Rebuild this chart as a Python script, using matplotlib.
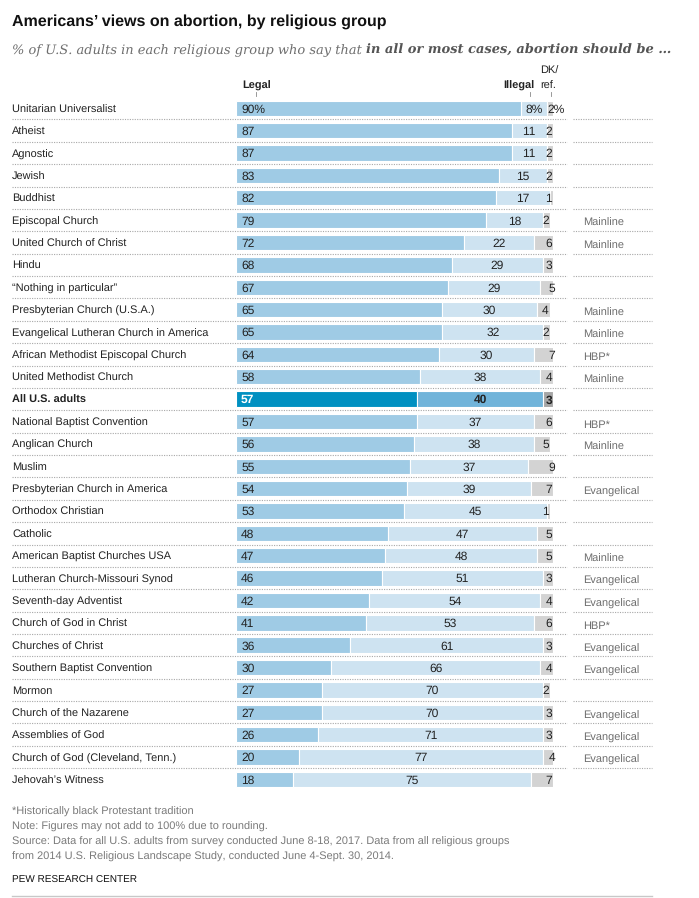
import matplotlib
matplotlib.use("Agg")
import matplotlib.pyplot as plt
import matplotlib.transforms as mtransforms
from matplotlib.lines import Line2D

plt.rcParams["text.hinting"] = "no_hinting"
plt.rcParams["text.hinting_factor"] = 1

# ── Data ──────────────────────────────────────────────────────────────────────
groups = [
    "Unitarian Universalist", "Atheist", "Agnostic", "Jewish", "Buddhist",
    "Episcopal Church", "United Church of Christ", "Hindu", "\u201cNothing in particular\u201d",
    "Presbyterian Church (U.S.A.)", "Evangelical Lutheran Church in America",
    "African Methodist Episcopal Church", "United Methodist Church", "All U.S. adults",
    "National Baptist Convention", "Anglican Church", "Muslim",
    "Presbyterian Church in America", "Orthodox Christian", "Catholic",
    "American Baptist Churches USA", "Lutheran Church-Missouri Synod",
    "Seventh-day Adventist", "Church of God in Christ", "Churches of Christ",
    "Southern Baptist Convention", "Mormon", "Church of the Nazarene",
    "Assemblies of God", "Church of God (Cleveland, Tenn.)", "Jehovah\u2019s Witness",
]
legal = [90, 87, 87, 83, 82, 79, 72, 68, 67, 65, 65, 64, 58, 57, 57, 56, 55,
         54, 53, 48, 47, 46, 42, 41, 36, 30, 27, 27, 26, 20, 18]
illegal = [8, 11, 11, 15, 17, 18, 22, 29, 29, 30, 32, 30, 38, 40, 37, 38, 37,
           39, 45, 47, 48, 51, 54, 53, 61, 66, 70, 70, 71, 77, 75]
dk_ref = [2, 2, 2, 2, 1, 2, 6, 3, 5, 4, 2, 7, 4, 3, 6, 5, 9,
          7, 1, 5, 5, 3, 4, 6, 3, 4, 2, 3, 3, 4, 7]
tradition = ["", "", "", "", "", "Mainline", "Mainline", "", "", "Mainline",
             "Mainline", "HBP*", "Mainline", "", "HBP*", "Mainline", "",
             "Evangelical", "", "", "Mainline", "Evangelical", "Evangelical",
             "HBP*", "Evangelical", "Evangelical", "", "Evangelical",
             "Evangelical", "Evangelical", ""]
total_row = "All U.S. adults"

# ── Palette ───────────────────────────────────────────────────────────────────
C = {
    "legal":      "#9FCBE5",
    "illegal":    "#CEE3F1",
    "dk":         "#D3D3D3",
    "legal_all":  "#0090C1",
    "illegal_all": "#71B4DA",
    "dk_all":     "#A6A6A6",
    "text":       "#222222",
    "muted":      "#6E6E6E",
    "rule":       "#A8A8A8",
}
SANS = ["Liberation Sans", "DejaVu Sans"]
SERIF = ["DejaVu Serif"]
FS = 7.95      # row / header labels
FS_NUM = 8.6   # numbers inside bars
BASE = 0.19    # baseline offset (rows) so text sits centred on the bar

W, H = 699, 898
fig = plt.figure(figsize=(W / 100, H / 100), dpi=100)
fig.patch.set_facecolor("white")

# bar area: 0..100 % spans 317 px starting at x=236
row0, step = 108.3, 22.37
n = len(groups)
top_px = row0 - step / 2
bot_px = row0 + step * (n - 1) + step / 2
ax = fig.add_axes([236 / W, 1 - bot_px / H, 317 / W, (bot_px - top_px) / H])
ax.set_xlim(0, 100)
ax.set_ylim(n - 0.5, -0.5)
ax.axis("off")

mix = mtransforms.blended_transform_factory(fig.transFigure, ax.transData)

for i, name in enumerate(groups):
    is_all = name == total_row
    c_l = C["legal_all"] if is_all else C["legal"]
    c_i = C["illegal_all"] if is_all else C["illegal"]
    c_d = C["dk_all"] if is_all else C["dk"]
    kw = dict(height=0.69, edgecolor="white", linewidth=0.8)
    ax.barh(i, legal[i], color=c_l, **kw)
    ax.barh(i, illegal[i], left=legal[i], color=c_i, **kw)
    ax.barh(i, dk_ref[i], left=legal[i] + illegal[i], color=c_d, **kw)

    weight = "bold" if is_all else "normal"
    suffix = "%" if i == 0 else ""
    yb = i + BASE
    ax.text(1.6, yb, f"{legal[i]}{suffix}", ha="left", va="baseline",
            fontsize=FS_NUM, family=SANS, fontweight=weight,
            color="white" if is_all else C["text"])
    ax.text(legal[i] + illegal[i] / 2, yb, f"{illegal[i]}{suffix}", ha="center",
            va="baseline", fontsize=FS_NUM, family=SANS, fontweight=weight,
            color=C["text"])
    end = legal[i] + illegal[i] + dk_ref[i]
    if i == 0:
        ax.text(legal[i] + illegal[i] + 0.2, yb, f"{dk_ref[i]}%", ha="left",
                va="baseline", fontsize=FS_NUM, family=SANS, color=C["text"],
                clip_on=False)
    else:
        ax.text(end - 0.3, yb, f"{dk_ref[i]}", ha="right", va="baseline",
                fontsize=FS_NUM, family=SANS, fontweight=weight, color=C["text"],
                clip_on=False)

    ax.text(12 / W, yb, name, transform=mix, ha="left", va="baseline",
            fontsize=FS, family=SANS, fontweight=weight, color=C["text"])
    if tradition[i]:
        ax.text(583 / W, yb + 0.08, tradition[i], transform=mix, ha="left",
                va="baseline", fontsize=FS, family=SANS, color=C["muted"])

# dotted separators between rows
for i in range(n - 1):
    for x0, x1 in [(12, 567), (573, 652)]:
        ax.add_line(Line2D([x0 / W, x1 / W], [i + 0.5, i + 0.5], transform=mix,
                           color=C["rule"], linewidth=0.8,
                           linestyle=(0, (1, 1.2)), clip_on=False))

# column headers
ax.text(6.6, -0.86, "Legal", ha="center", va="baseline", fontsize=FS,
        family=SANS, fontweight="bold", color=C["text"], clip_on=False)
ax.text(94.3, -0.86, "Illegal", ha="right", va="baseline", fontsize=FS,
        family=SANS, fontweight="bold", color=C["text"], clip_on=False)
ax.text(95.9, -1.53, "DK/", ha="left", va="baseline", fontsize=FS,
        family=SANS, color=C["text"], clip_on=False)
ax.text(95.9, -0.86, "ref.", ha="left", va="baseline", fontsize=FS,
        family=SANS, color=C["text"], clip_on=False)
for tx in (6.3, 92.7, 99.4):
    ax.plot([tx, tx], [-0.73, -0.56], color="#888888", linewidth=0.6,
            clip_on=False)

# ── Header ────────────────────────────────────────────────────────────────────
fig.text(12 / W, 1 - 26 / H, "Americans\u2019 views on abortion, by religious group",
         ha="left", va="baseline", fontsize=11.7, fontweight="bold",
         family=SANS, color="#111111")
sub = fig.text(12 / W, 1 - 54 / H,
               "% of U.S. adults in each religious group who say that ",
               ha="left", va="baseline", fontsize=9.0, style="italic",
               family=SERIF, color=C["muted"])
fig.canvas.draw()
bb = sub.get_window_extent()
fig.text(bb.x1 / W, 1 - 54 / H, "in all or most cases, abortion should be \u2026",
         ha="left", va="baseline", fontsize=9.0, style="italic", fontweight="bold",
         family=SERIF, color="#555555")

# ── Footer ────────────────────────────────────────────────────────────────────
notes = [
    "*Historically black Protestant tradition",
    "Note: Figures may not add to 100% due to rounding.",
    "Source: Data for all U.S. adults from survey conducted June 8-18, 2017. Data from all religious groups",
    "from 2014 U.S. Religious Landscape Study, conducted June 4-Sept. 30, 2014.",
]
for k, line in enumerate(notes):
    fig.text(12 / W, 1 - (815 + 14.8 * k) / H, line, ha="left", va="baseline",
             fontsize=8.1, family=SANS, color="#7A7A7A")
fig.text(12 / W, 1 - 883 / H, "PEW RESEARCH CENTER", ha="left", va="baseline",
         fontsize=7.2, family=SANS, color="#111111")
fig.add_artist(Line2D([12 / W, 652 / W], [1 - 896 / H, 1 - 896 / H],
                      transform=fig.transFigure, color="#C8C8C8", linewidth=1))

fig.savefig("out.png", dpi=100, facecolor="white")
